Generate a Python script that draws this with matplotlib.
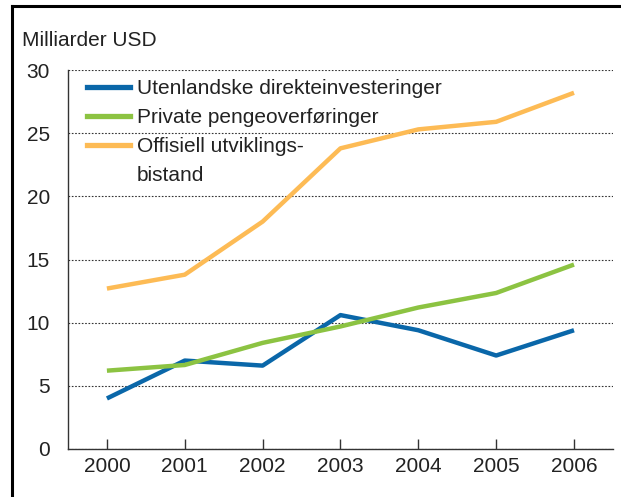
import matplotlib.pyplot as plt
from matplotlib.lines import Line2D

years = [2000, 2001, 2002, 2003, 2004, 2005, 2006]
fdi = [4.0, 7.0, 6.6, 10.6, 9.4, 7.4, 9.4]
remittances = [6.2, 6.65, 8.4, 9.7, 11.2, 12.35, 14.6]
oda = [12.7, 13.8, 18.0, 23.8, 25.3, 25.9, 28.2]

labels = ["Utenlandske direkteinvesteringer", "Private pengeoverføringer",
          "Offisiell utviklings-", "bistand"]
colors = ["#0a67a9", "#8cc342", "#fdbb55"]
yticks = [0, 5, 10, 15, 20, 25, 30]

plt.rcParams["font.family"] = ["Liberation Sans", "DejaVu Sans"]

fig = plt.figure(figsize=(6.21, 4.97), dpi=100)
ax = fig.add_axes([0.1095, 0.0966, 0.8775, 0.7625])

for vals, c, lab in zip([fdi, remittances, oda], colors, labels[:3]):
    ax.plot(years, vals, color=c, linewidth=3.2, label=lab, solid_capstyle="butt")

ax.set_xlim(1999.5, 2006.5)
ax.set_ylim(0, 30)
ax.set_xticks(years)
ax.set_yticks(yticks)
ax.grid(axis="y", linestyle=(0, (1.5, 1.5)), color="#333333", linewidth=0.8)
ax.set_axisbelow(True)

for s in ["top", "right"]:
    ax.spines[s].set_visible(False)
ax.spines["left"].set_linewidth(1.0)
ax.spines["bottom"].set_linewidth(1.0)
ax.spines["left"].set_color("#333333")
ax.spines["bottom"].set_color("#333333")

ax.tick_params(axis="x", direction="in", length=7, width=1, color="#333333",
               labelsize=15, pad=6, labelcolor="#222222")
ax.tick_params(axis="y", length=0, labelsize=15, pad=13, labelcolor="#222222")

handles = [Line2D([], [], color=c, linewidth=3.8) for c in colors]
handles.append(Line2D([], [], color="none"))
ax.legend(handles, labels, loc="upper left", bbox_to_anchor=(0.0, 1.025),
          frameon=False, fontsize=15, handlelength=2.1, handletextpad=0.3,
          labelspacing=0.48, borderaxespad=0.5, labelcolor="#222222")

fig.text(22 / 621, 1 - 40 / 497, "Milliarder USD", fontsize=15,
         va="center", ha="left", color="#222222")

fig.add_artist(Line2D([12 / 621, 12 / 621], [0, 1 - 6 / 497], color="black",
                      linewidth=2.2, transform=fig.transFigure))
fig.add_artist(Line2D([12 / 621, 1], [1 - 6 / 497, 1 - 6 / 497], color="black",
                      linewidth=2.2, transform=fig.transFigure))

fig.savefig("out.png", dpi=100)
